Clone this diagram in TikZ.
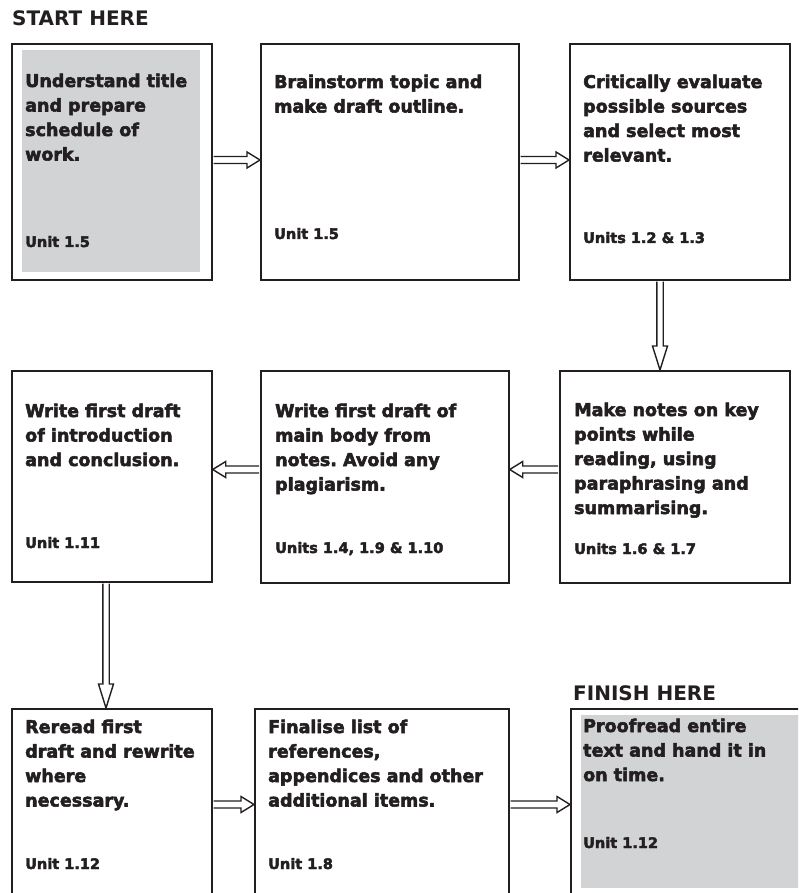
\documentclass[tikz,border=0pt]{standalone}
\usepackage{fontspec}
\setmainfont{DejaVu Sans}
\newfontfamily\heavyfont{DejaVu Sans}[BoldFeatures={FakeBold=3}]
\usetikzlibrary{calc}
\definecolor{ink}{HTML}{231F20}
\definecolor{panel}{HTML}{D1D3D4}
\frenchspacing
\begin{document}
\begin{tikzpicture}[x=1pt,y=-1pt,
  box/.style={draw=ink, line width=1.7pt, anchor=north west, inner sep=0pt},
  txt/.style={anchor=base west, inner sep=0pt, align=left, text=ink,
    font=\heavyfont\bfseries\fontsize{17.5}{24.5}\selectfont},
  unit/.style={anchor=base west, inner sep=0pt, text=ink,
    font=\heavyfont\bfseries\fontsize{14.5}{17}\selectfont},
  headline/.style={anchor=base west, inner sep=0pt, text=ink,
    font=\bfseries\fontsize{20}{24}\selectfont},
  arr/.style={draw=ink, fill=white, line width=1.4pt, line join=miter},
  rarr/.style={arr, to path={let \p1=(\tikztostart), \p2=(\tikztotarget) in
    ({\x1+0.8pt},{\y1+3.5pt}) -- ({\x2-13pt},{\y1+3.5pt}) -- ({\x2-13pt},{\y1+8pt})
    -- (\x2,\y1) -- ({\x2-13pt},{\y1-8pt}) -- ({\x2-13pt},{\y1-3.5pt})
    -- ({\x1+0.8pt},{\y1-3.5pt})}},
  larr/.style={arr, to path={let \p1=(\tikztostart), \p2=(\tikztotarget) in
    ({\x1-0.8pt},{\y1+3.5pt}) -- ({\x2+13pt},{\y1+3.5pt}) -- ({\x2+13pt},{\y1+8pt})
    -- (\x2,\y1) -- ({\x2+13pt},{\y1-8pt}) -- ({\x2+13pt},{\y1-3.5pt})
    -- ({\x1-0.8pt},{\y1-3.5pt})}},
  darr/.style={arr, to path={let \p1=(\tikztostart), \p2=(\tikztotarget) in
    ({\x1-3.2pt},{\y1-0.8pt}) -- ({\x1-3.2pt},{\y2+24pt}) -- ({\x1-7.5pt},{\y2+24pt})
    -- (\x1,\y2) -- ({\x1+7.5pt},{\y2+24pt}) -- ({\x1+3.2pt},{\y2+24pt})
    -- ({\x1+3.2pt},{\y1-0.8pt})}}
]
\useasboundingbox (0,0) rectangle (798,893);
\clip (0,0) rectangle (798,893);

% shaded panels
\fill[panel] (22,50) rectangle (200,272);
\fill[panel] (581,715) rectangle (850,888);

% boxes
\node[box, minimum width=200pt, minimum height=236pt] (b1) at (11,43) {};
\node[box, minimum width=258pt, minimum height=236pt] (b2) at (260,43) {};
\node[box, minimum width=220pt, minimum height=236pt] (b3) at (569,43) {};
\node[box, minimum width=200pt, minimum height=211pt] (b4) at (11,370) {};
\node[box, minimum width=248pt, minimum height=212pt] (b5) at (260,370) {};
\node[box, minimum width=230pt, minimum height=212pt] (b6) at (559,370) {};
\node[box, minimum width=200pt, minimum height=260pt] (b7) at (11,708) {};
\node[box, minimum width=254pt, minimum height=260pt] (b8) at (254,708) {};
\node[box, minimum width=270pt, minimum height=260pt] (b9) at (570,708) {};

% headings
\node[headline] (start) at (12,26) {START HERE};
\node[headline] (finish) at (573,700) {FINISH HERE};

% texts (anchored at the baseline of the last line)
\node[txt] (t1) at (25,160.5) {Understand title\\and prepare\\schedule of\\work.};
\node[unit] (u1) at (25,247) {Unit 1.5};
\node[txt] (t2) at (274,112.5) {Brainstorm topic and\\make draft outline.};
\node[unit] (u2) at (274,239) {Unit 1.5};
\node[txt] (t3) at (583,161.5) {Critically evaluate\\possible sources\\and select most\\relevant.};
\node[unit] (u3) at (583,243) {Units 1.2 \& 1.3};
\node[txt] (t4) at (25,466) {Write first draft\\of introduction\\and conclusion.};
\node[unit] (u4) at (25,548) {Unit 1.11};
\node[txt] (t5) at (275,490.5) {Write first draft of\\main body from\\notes. Avoid any\\plagiarism.};
\node[unit] (u5) at (275,553) {Units 1.4, 1.9 \& 1.10};
\node[txt] (t6) at (574,514) {Make notes on key\\points while\\reading, using\\paraphrasing and\\summarising.};
\node[unit] (u6) at (574,554) {Units 1.6 \& 1.7};
\node[txt] (t7) at (25,806.5) {Reread first\\draft and rewrite\\where\\necessary.};
\node[unit] (u7) at (25,869) {Unit 1.12};
\node[txt] (t8) at (268,806.5) {Finalise list of\\references,\\appendices and other\\additional items.};
\node[unit] (u8) at (268,869) {Unit 1.8};
\node[txt] (t9) at (583,781) {Proofread entire\\text and hand it in\\on time.};
\node[unit] (u9) at (583,848) {Unit 1.12};

% arrow levels
\coordinate (ya) at (0,160);
\coordinate (yb) at (0,469.5);
\coordinate (yc) at (0,804.5);
\coordinate (xa) at (660,0);
\coordinate (xb) at (106,0);

% connectors
\draw[rarr] (b1.east |- ya) to (b2.west |- ya);
\draw[rarr] (b2.east |- ya) to (b3.west |- ya);
\draw[darr] (b3.south -| xa) to (b6.north -| xa);
\draw[larr] (b6.west |- yb) to (b5.east |- yb);
\draw[larr] (b5.west |- yb) to (b4.east |- yb);
\draw[darr] (b4.south -| xb) to (b7.north -| xb);
\draw[rarr] (b7.east |- yc) to (b8.west |- yc);
\draw[rarr] (b8.east |- yc) to (b9.west |- yc);
\end{tikzpicture}
\end{document}
